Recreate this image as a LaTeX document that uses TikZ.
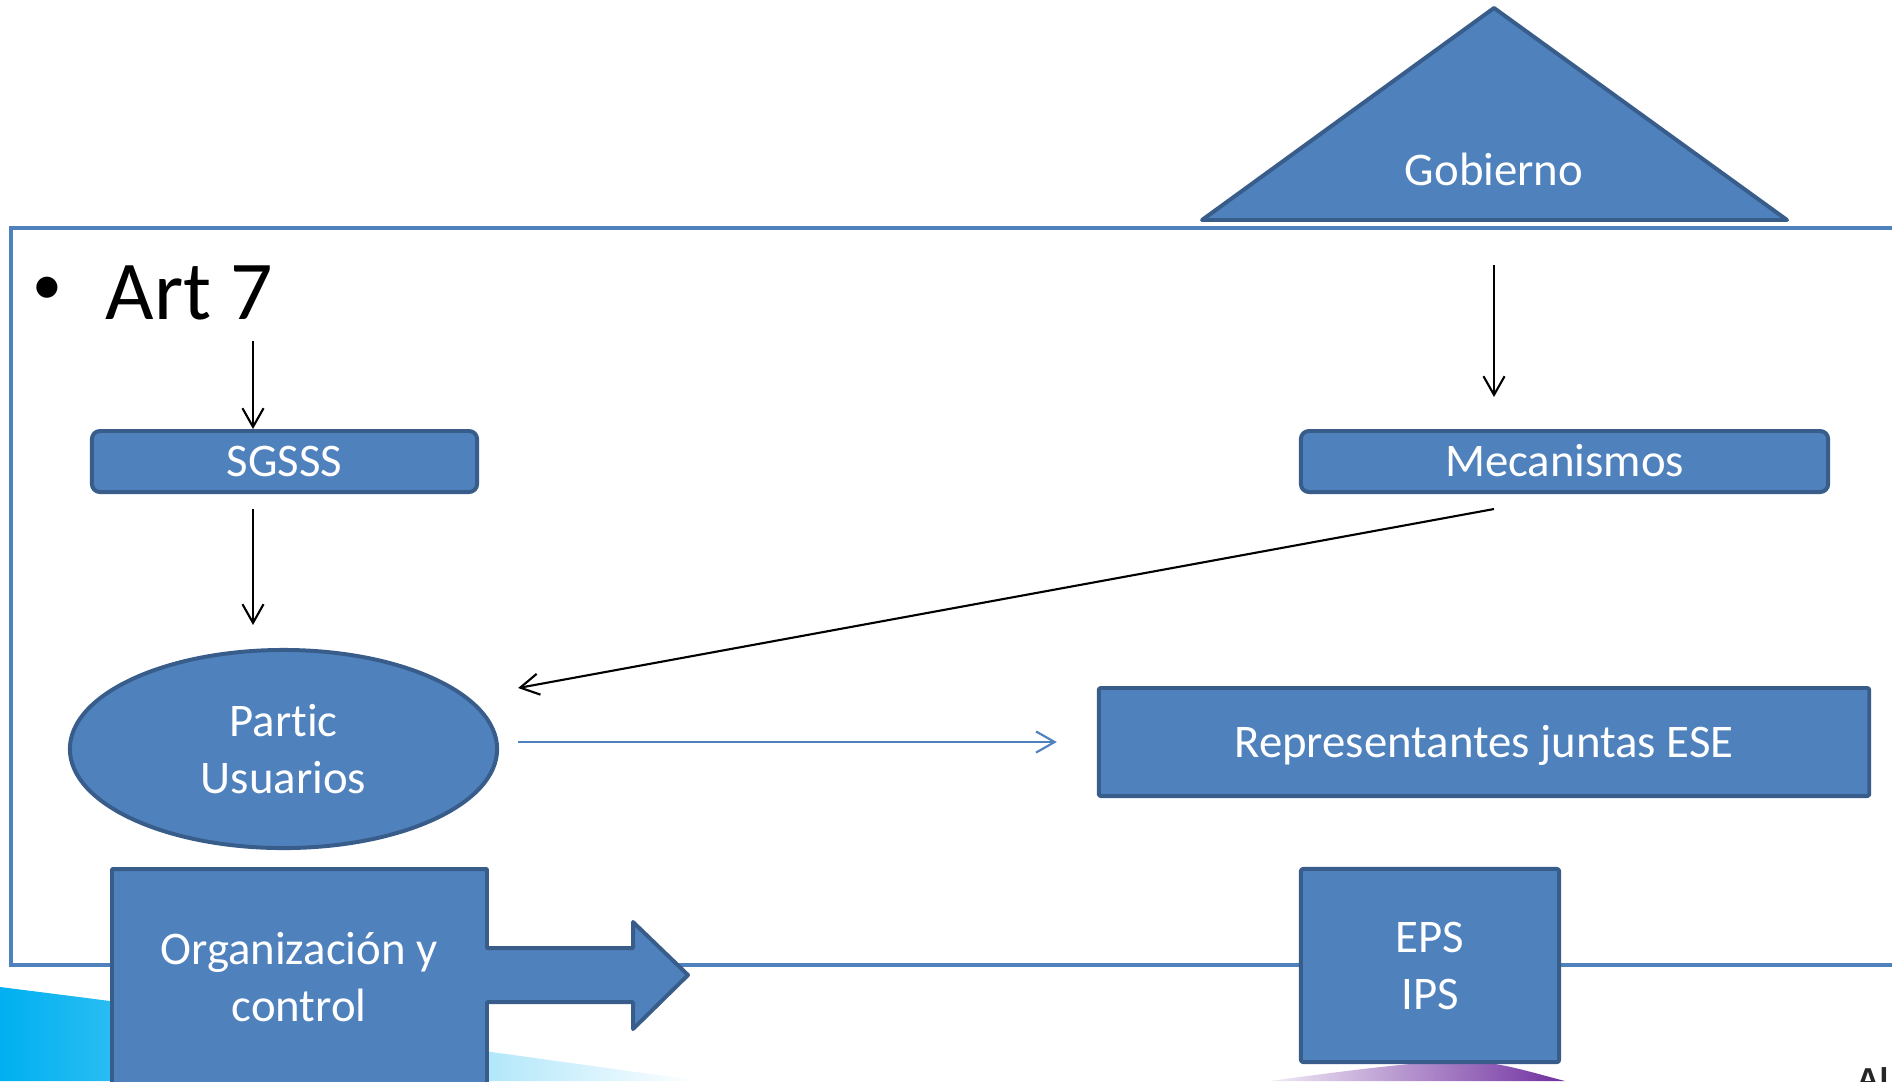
\documentclass[tikz,border=0pt]{standalone}
\usepackage{fontspec}
\setmainfont{Carlito}[Ligatures=NoCommon]
\newfontfamily\logofont{Liberation Sans}
\usetikzlibrary{arrows.meta,shapes.geometric,calc}

\definecolor{shapefill}{RGB}{79,129,189}
\definecolor{shapeline}{RGB}{56,93,138}
\definecolor{framecol}{RGB}{79,129,189}
\definecolor{swooshcyan}{RGB}{0,176,240}
\definecolor{swooshpurple}{RGB}{112,48,160}

\tikzset{
  shp/.style={fill=shapefill, draw=shapeline, line width=1.13pt, line join=round},
  boxfont/.style={text=white, font=\fontsize{13.3}{16.2}\selectfont},
  rbox/.style={shp, boxfont, rectangle, rounded corners=2.3pt, inner sep=0pt,
               text height=8.65pt, text depth=0pt},
  sbox/.style={shp, boxfont, rectangle, rounded corners=0.6pt, inner sep=0pt, align=center},
  oval/.style={shp, boxfont, ellipse, inner sep=0pt, align=center},
  lbl/.style={boxfont, inner sep=0pt, align=center},
  conn/.style={line width=0.6pt, -{Straight Barb[length=5.3pt,width=6pt]}},
  bconn/.style={conn, draw=framecol},
}

\begin{document}
\begin{tikzpicture}[x=0.01cm, y=-0.01cm]
  \useasboundingbox (0,0) rectangle (1892,1081);
  \clip (0,0) rectangle (1892,1081);
  \fill[white] (0,0) rectangle (1892,1081);

  % background swooshes along the bottom edge
  \shade[left color=swooshcyan, middle color=swooshcyan!55!white, right color=white]
    (0,987) .. controls (200,1012) and (480,1050) .. (700,1081) -- (0,1081) -- cycle;
  \shade[left color=swooshpurple!10!white, middle color=swooshpurple, right color=swooshpurple]
    (1270,1081) .. controls (1380,1066) and (1430,1061) .. (1466,1061)
    .. controls (1500,1062) and (1530,1072) .. (1565,1081) -- cycle;
  \node[anchor=north west, inner sep=0pt, text=black!85,
        font=\logofont\bfseries\fontsize{9}{10}\selectfont] (logo) at (1856,1067) {Al};

  % content frame
  \draw[framecol, line width=1.13pt] (11,228) rectangle (1920,965);

  % Gobierno triangle
  \draw[shp] (1494,8) -- (1787,220) -- (1202,220) -- cycle;
  \node[lbl, anchor=base] (gob) at (1494,185) {Gobierno};

  % bullet heading
  \node[anchor=center, inner sep=0pt, font=\fontsize{17}{20}\selectfont] (bul) at (47,291) {•};
  \node[anchor=base west, inner sep=0pt, font=\fontsize{23.8}{28}\selectfont] (art) at (105,319) {Art 7};

  % boxes
  \node[rbox, minimum width=38.5mm, minimum height=6.1mm] (sg) at (284.5,461.5) {SGSSS};
  \node[rbox, minimum width=52.7mm, minimum height=6.1mm] (mec) at (1564.5,461.5) {Mecanismos};
  \node[sbox, minimum width=77mm, minimum height=10.8mm, text height=8.65pt, text depth=0pt]
    (rep) at (1484,742) {Representantes juntas ESE};
  \node[oval, minimum width=42.7mm, minimum height=19.8mm] (part) at (283.5,749) {Partic\\Usuarios};
  \node[sbox, minimum width=25.8mm, minimum height=19.3mm] (eps) at (1430,965.5) {EPS\\IPS};

  % block arrow with text
  \draw[shp] (112,869) -- (487,869) -- (487,948) -- (633,948) -- (633,922) -- (688,975)
    -- (633,1029) -- (633,1002) -- (487,1002) -- (487,1100) -- (112,1100) -- cycle;
  \node[lbl] (org) at (299,977) {Organización y\\control};

  % connectors
  \coordinate (a1) at ($(art.base west)+(148,22)$);
  \draw[conn] (a1) -- (a1 |- sg.north);
  \coordinate (a2) at ($(a1 |- sg.south)+(0,15)$);
  \draw[conn] (a2) -- ($(a2 |- part.north)+(0,-23)$);

  \coordinate (g1) at ($(gob.base)+(0,80)$);
  \draw[conn] (g1) -- ($(g1 |- mec.north)+(0,-32)$);
  \coordinate (m1) at ($(g1 |- mec.south)+(0,15)$);
  \draw[conn] (m1) -- ($(part.east)+(19,-61)$);

  \coordinate (p1) at ($(part.east)+(19,-7)$);
  \draw[bconn] (p1) -- ($(rep.west)+(-40,0)$);
\end{tikzpicture}
\end{document}
